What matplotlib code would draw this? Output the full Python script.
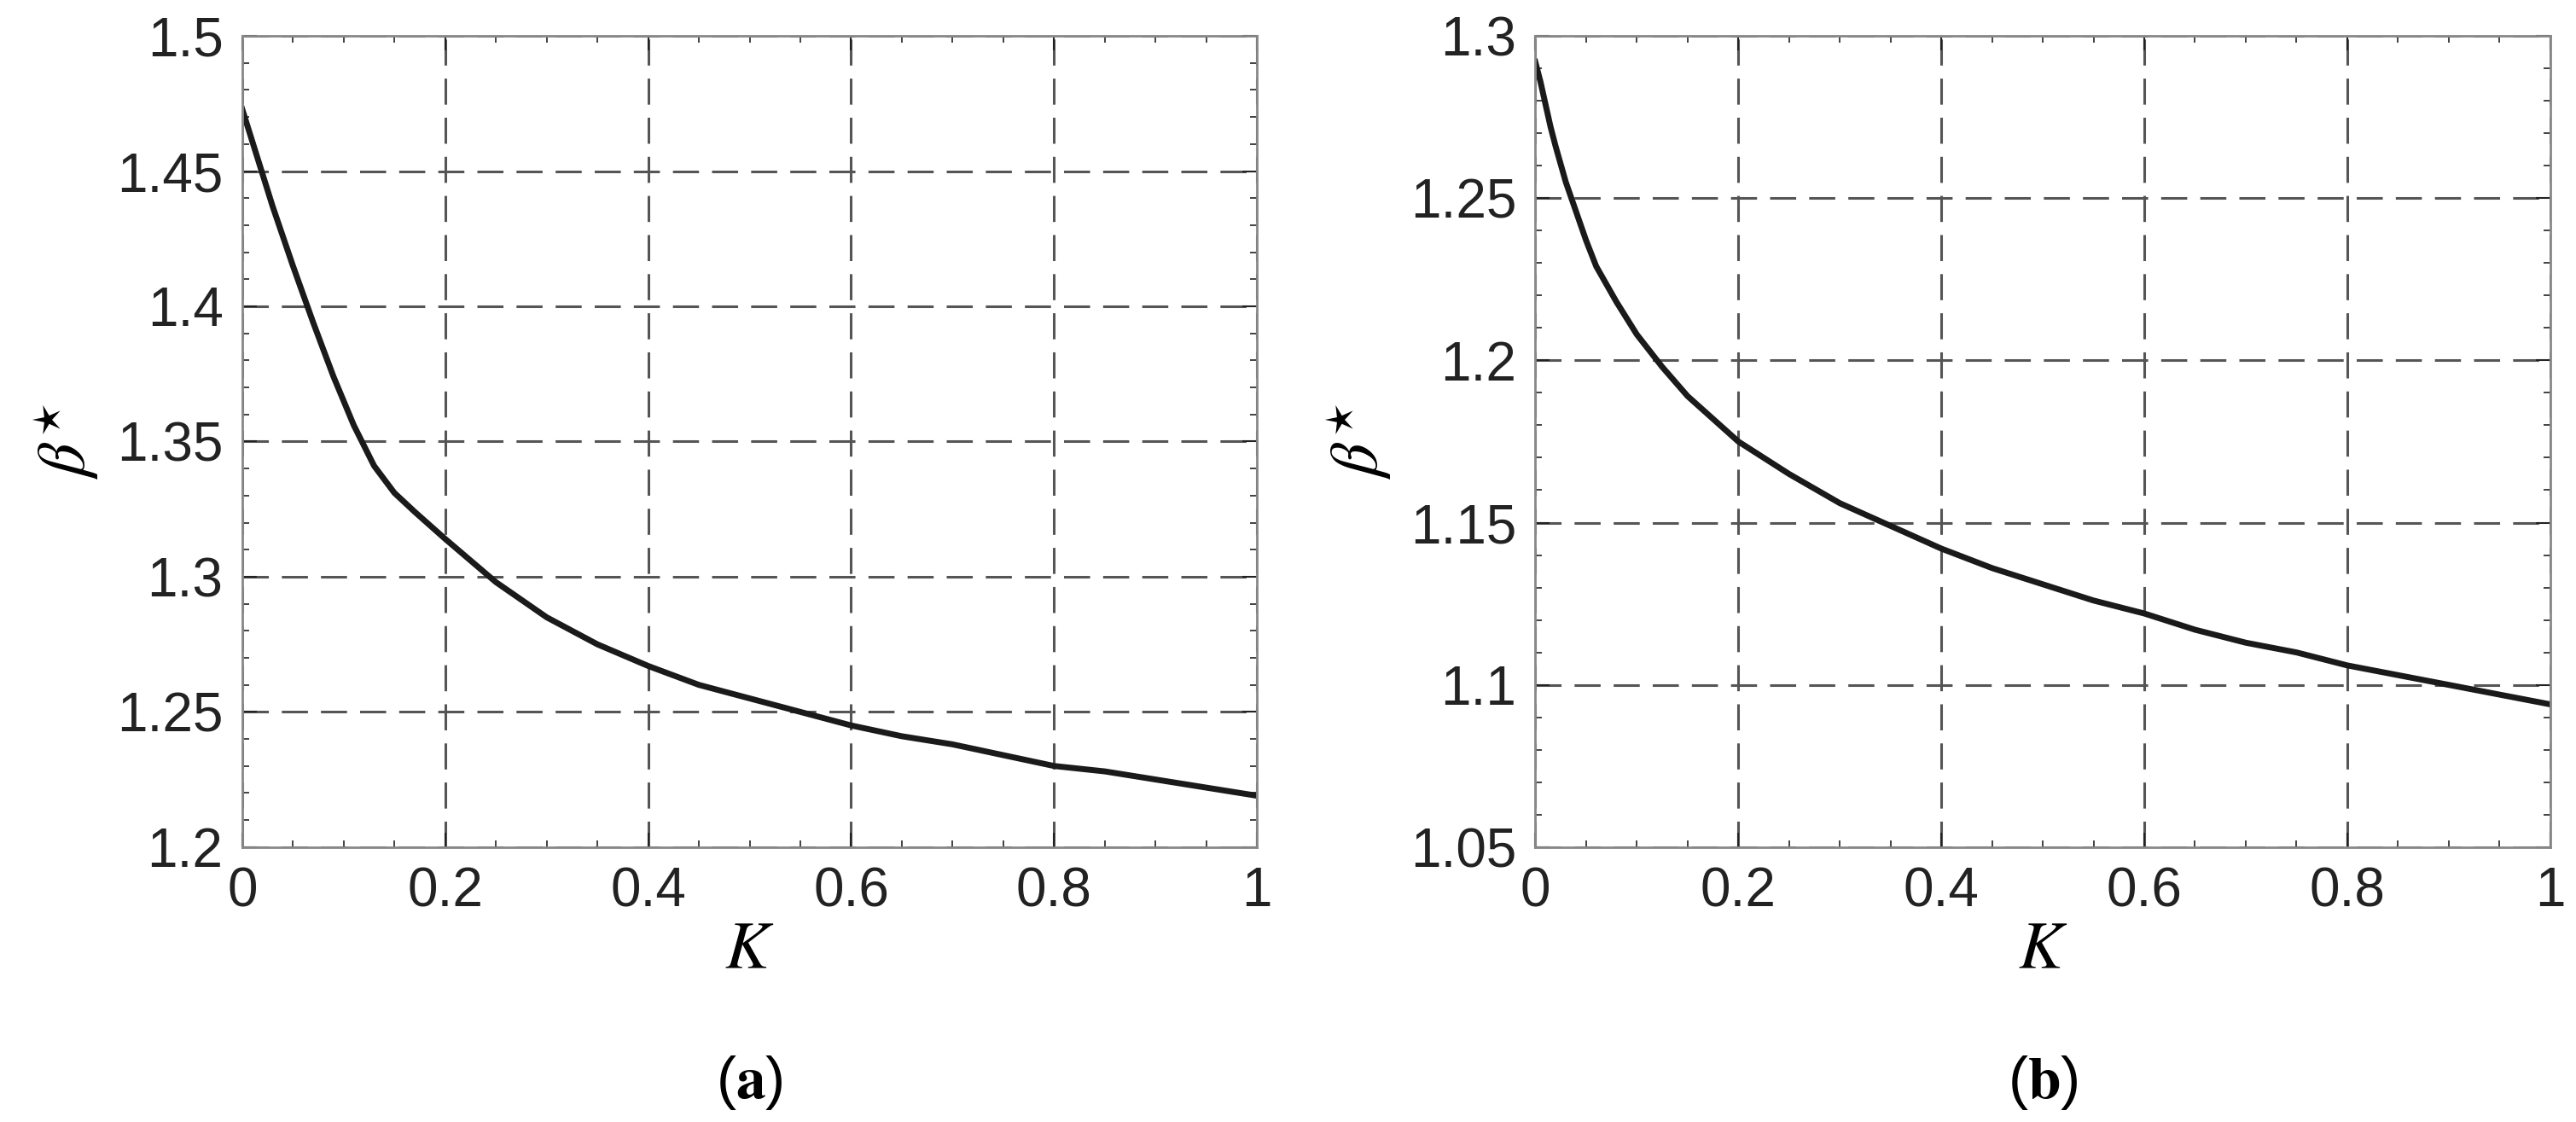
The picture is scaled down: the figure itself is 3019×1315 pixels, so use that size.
import numpy as np
from matplotlib import pyplot as plt
from matplotlib.ticker import AutoMinorLocator

plt.rcParams['font.family'] = ['Liberation Sans', 'DejaVu Sans']
plt.rcParams['mathtext.fontset'] = 'stix'

# values
k_a = [0.0, 0.01, 0.02, 0.03, 0.05, 0.07, 0.09, 0.11, 0.13, 0.15, 0.17, 0.2, 0.25, 0.3, 0.35, 0.4, 0.45, 0.5,
       0.55, 0.6, 0.65, 0.7, 0.75, 0.8, 0.85, 0.9, 0.95, 1.0]
beta_a = [1.473, 1.461, 1.449, 1.437, 1.415, 1.394, 1.374, 1.356, 1.341, 1.331, 1.324, 1.314, 1.298, 1.285,
          1.275, 1.267, 1.260, 1.255, 1.250, 1.245, 1.241, 1.238, 1.234, 1.230, 1.228, 1.225, 1.222, 1.219]

k_b = [0.0, 0.005, 0.01, 0.015, 0.02, 0.03, 0.04, 0.05, 0.06, 0.08, 0.1, 0.125, 0.15, 0.2, 0.25, 0.3, 0.35,
       0.4, 0.45, 0.5, 0.55, 0.6, 0.65, 0.7, 0.75, 0.8, 0.85, 0.9, 0.95, 1.0]
beta_b = [1.292, 1.286, 1.279, 1.272, 1.266, 1.255, 1.246, 1.237, 1.229, 1.218, 1.208, 1.198, 1.189, 1.175,
          1.165, 1.156, 1.149, 1.142, 1.136, 1.131, 1.126, 1.122, 1.117, 1.113, 1.110, 1.106, 1.103, 1.100,
          1.097, 1.094]

panels = [
    (k_a, beta_a, (1.2, 1.5), np.arange(1.2, 1.501, 0.05), ['1.2', '1.25', '1.3', '1.35', '1.4', '1.45', '1.5'], 'a'),
    (k_b, beta_b, (1.05, 1.3), np.arange(1.05, 1.301, 0.05), ['1.05', '1.1', '1.15', '1.2', '1.25', '1.3'], 'b'),
]

fig = plt.figure(figsize=(30.19, 13.15), dpi=100)
lefts = [0.094, 0.596]

for left, (k, beta, ylim, yt, ytl, tag) in zip(lefts, panels):
    ax = fig.add_axes([left, 0.245, 0.394, 0.723])
    ax.plot(k, beta, color='#1a1a1a', lw=5)
    ax.set_xlim(0, 1)
    ax.set_ylim(*ylim)
    ax.set_xticks([0, 0.2, 0.4, 0.6, 0.8, 1])
    ax.set_xticklabels(['0', '0.2', '0.4', '0.6', '0.8', '1'])
    ax.set_yticks(yt)
    ax.set_yticklabels(ytl)
    ax.xaxis.set_minor_locator(AutoMinorLocator(4))
    ax.yaxis.set_minor_locator(AutoMinorLocator(5))
    ax.tick_params(which='both', direction='in', top=True, right=True, labelsize=46, colors='#222222')
    ax.tick_params(which='major', length=12, width=1.5, pad=16)
    ax.tick_params(which='minor', length=6, width=1.2)
    ax.grid(True, which='major', ls=(0, (10, 5)), color='#555555', lw=2.2)
    for s in ax.spines.values():
        s.set_color('#888888')
        s.set_linewidth(2)
    ax.set_xlabel('$K$', fontsize=56, labelpad=2)
    ax.set_ylabel(r'$\beta^{\star}$', fontsize=56, labelpad=14)
    ax.text(0.5, -0.255, r'($\mathbf{' + tag + '}$)', transform=ax.transAxes,
            ha='center', va='top', fontsize=50)

fig.savefig('out.png', dpi=100)
